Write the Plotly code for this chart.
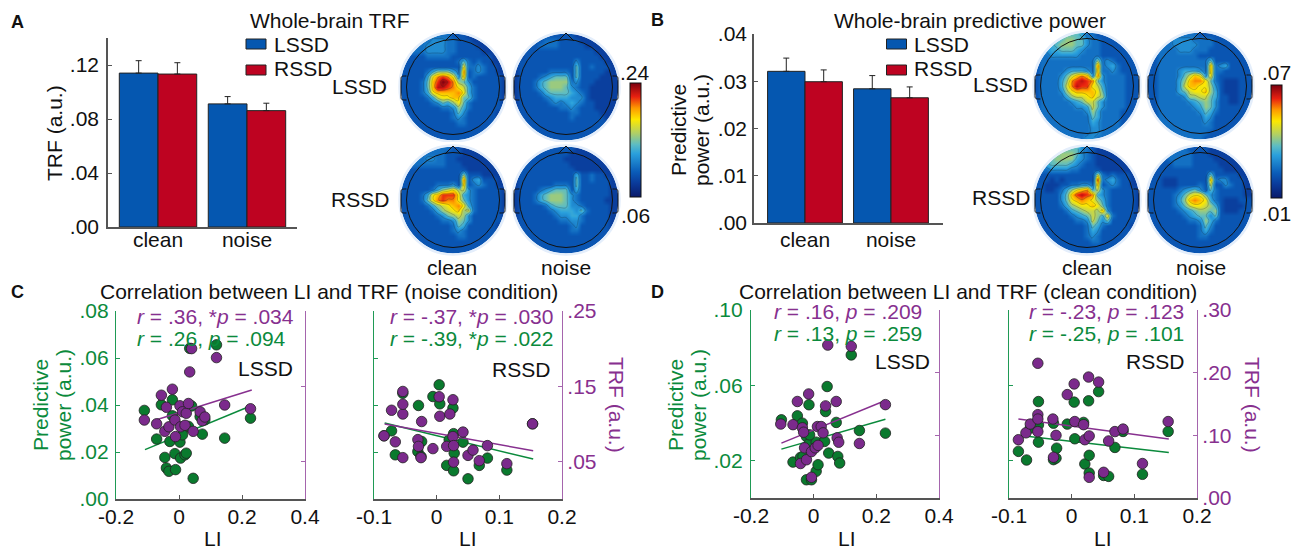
import math
import plotly.graph_objects as go

W, H = 1298, 549
FONT = "Liberation Sans, Arial, sans-serif"
FS = 21
GREEN = "#0b8a3c"
PURPLE = "#87308f"
GREEN_AX = "#1f9a55"
PURPLE_AX = "#a565ad"
GREEN_DOT = "#0a7a2e"
PURPLE_DOT = "#7b2a8c"
BLUE = "#0557b0"
RED = "#be0321"

# ---------- bar data ----------
conditions = ["clean", "noise"]
trf_lssd = [0.1140, 0.0912]
trf_rssd = [0.1133, 0.0862]
trf_lssd_err = [0.0092, 0.0054]
trf_rssd_err = [0.0084, 0.0055]
pp_lssd = [0.0321, 0.0284]
pp_rssd = [0.0299, 0.0265]
pp_lssd_err = [0.0028, 0.0028]
pp_rssd_err = [0.0025, 0.0023]

# ---------- scatter data ----------
cl_x_p = [-.110,-.071,-.056,-.045,-.040,-.032,-.021,-.013,-.011,.003,.005,.011,.019,.023,.030,.034,.040,.045,.067,.074,.082,.119,.145,.227]
cl_p = [.105,.100,.138,.090,.122,.096,.146,.105,.083,.124,.096,.116,.098,.114,.127,.169,.200,.090,.116,.104,.109,.188,.125,.120]
cl_x_g = [-.110,-.071,-.056,-.045,-.040,-.032,-.029,-.021,-.021,-.013,-.011,.003,.005,.011,.019,.023,.030,.034,.040,.045,.067,.074,.082,.119,.145,.227]
cl_g = [.0377,.0255,.0401,.0177,.0132,.0118,.0245,.0422,.0354,.0193,.0125,.0242,.0174,.0273,.0188,.0195,.0309,.0641,.0396,.0088,.0351,.0276,.0337,.0656,.0259,.0344]
cl_line_x_g = [-.108,.227]; cl_line_g = [.0210,.0396]
cl_line_x_p = [-.074,.231]; cl_line_p = [.105,.145]

cr_x_p = [-.084,-.072,-.066,-.054,-.054,-.054,-.054,-.030,-.029,-.025,-.024,-.006,.004,.005,.016,.021,.026,.026,.027,.027,.042,.050,.058,.068,.081,.112,.153]
cr_p = [.084,.118,.076,.055,.113,.126,.143,.079,.070,.055,.103,.067,.136,.110,.070,.113,.132,.083,.071,.049,.089,.058,.065,.051,.071,.047,.100]
cr_x_g = [-.084,-.072,-.066,-.054,-.030,-.029,-.024,-.025,-.006,.004,.005,.016,.020,.026,.027,.027,.028,.042,.050,.068,.081,.112,.153]
cr_g = [.0269,.0290,.0188,.0450,.0202,.0398,.0245,.0181,.0436,.0486,.0405,.0143,.0252,.0387,.0278,.0120,.0195,.0242,.0086,.0143,.0174,.0123,.0320]
cr_line_x = [-.083,.154]; cr_line_g = [.0323,.0170]; cr_line_p = [.0996,.0642]

dl_x_g = [-.103,-.066,-.052,-.036,-.023,-.042,-.034,-.023,-.007,.008,.014,-.015,.043,-.013,.008,.035,.038,.048,.072,.077,.083,.120,.146,.229,-.013]
dl_g = [.0416,.0191,.0437,.0398,.0327,.0216,.0221,.0097,.0097,.0142,.0177,.0496,.0593,.0292,.0297,.0301,.0460,.0239,.0402,.0221,.0186,.0761,.0359,.0345,.0336]
dl_x_p = [-.105,-.066,-.052,-.036,-.032,-.042,-.029,-.023,-.016,-.007,-.007,.005,.014,.012,.024,.030,.038,.072,.075,.080,.045,.120,.146,.229]
dl_p = [.118,.117,.154,.112,.105,.055,.080,.061,.166,.074,.033,.080,.084,.114,.114,.104,.147,.154,.096,.089,.244,.242,.087,.149]
dl_line_x = [-.103,.229]; dl_line_g = [.0260,.0419]; dl_line_p = [.0876,.1556]

dr_x_g = [-.085,-.072,-.066,-.053,-.053,-.053,-.029,-.029,-.025,-.024,-.007,.004,.005,.019,.021,.027,.028,.028,.043,.051,.059,.069,.082,.113,.154]
dr_g = [.0248,.0202,.0372,.0513,.0389,.0297,.0398,.0204,.0212,.0265,.0393,.0510,.0315,.0402,.0181,.0517,.0227,.0133,.0566,.0120,.0115,.0269,.0354,.0126,.0354]
dr_x_p = [-.085,-.073,-.066,-.054,-.054,-.054,-.054,-.030,-.029,-.025,-.007,.004,.005,.019,.021,.027,.028,.028,.043,.051,.059,.069,.082,.113,.154]
dr_p = [.093,.104,.118,.215,.133,.126,.106,.126,.065,.100,.165,.182,.122,.117,.093,.193,.099,.033,.185,.041,.091,.106,.110,.055,.122]
dr_line_x_g = [-.082,.155]; dr_line_g = [.0333,.0242]
dr_line_x_p = [-.085,.155]; dr_line_p = [.126,.094]

# ---------- scalp-map cells (hex level 0-f of the colour bar) ----------
map_a_lssd_clean = ["222334444433322222222","233444555443332222222","334445555443333222222","334445555443333322222","333334444433333333222","333333333334743433222","333333333333a44543322","333334688864c34543322","333336acdca5b34333332","333347bdfec8753333332","333347beedca964333332","333346abbbbca64333332","33333469aabb774333332","33333345768a743333332","333333334458643333332","333333333347533333322","333333333345433333322","333333333334433333322","333333333333333333222","233333333333333333222","223333333333333332222"]
map_a_lssd_noise = ["222223333333222222222","222333444333322222222","223334444333332222222","223333333333333322222","223333333333333332222","233333333333533333222","233333333333733433322","233333344443733333222","233334567773733332222","233346788884533322222","233346788875433222222","233334677776543222222","233333456665553222222","233333345456543322222","233333333445433322222","233333333334433332222","233333333334333333222","233333333333333333322","233333333333333333322","233333333333333332222","223333333333333222222"]
map_a_rssd_clean = ["222334444433222222222","233444444333222222222","334445544332222222222","334444444333222222222","333333333333322222222","333333333333833322222","333333333333c35633322","333333344453b34543322","3333334689a8954333332","333346abddda654333332","333347acdcca754333332","333334689abca64333332","3333334689ab894333332","333333345789853333332","333333334458753333332","333333333347633333322","333333333345433333322","333333333334433333322","333333333333333333222","233333333333333333222","223333333333333332222"]
map_a_rssd_noise = ["222223333333222222222","222333333332222222222","223333333322222222222","223333333332222222222","233333333333222222222","233333333333633433222","233333333333733433322","233333334443733333322","233334567773633333322","233346788875433333322","233346788875433333222","233333467775543333322","233333345666574333322","233333334556643333322","233333333445543333322","233333333334533333322","233333333334433333322","333333333333333333322","333333333333333333322","333333333333333333222","223333333333333332222"]
map_b_lssd_clean = ["333446777644333333333","334567887754433333333","345678887754433333333","345667776544433333334","344555555444433333333","344444444444845433333","344444444444c45643333","344444566654b44543333","34444579bcb5c54444333","3444468cdedc754444333","3444469cedda964444333","3444458abbbba74444333","3444446899ab984444333","344444456799754444333","344444445569754444333","344444444458644443333","344444444447644443333","344444444446544443333","344444444445544443333","334444444445544433333","333444444455444333333"]
map_b_lssd_noise = ["333344444433333333333","334445555444433333333","334445555544433333333","334444555444333333333","334444444433333333333","334444444444733333333","334444444444b45633333","334444566654b44333333","334444579ba5a43333333","33444468bcca743222333","33444469bbaa853222333","334444679aab863222333","334444458899763322333","334444445678753322333","334444444568753333333","334444444457643333333","334444444446533333333","334444444445433333333","333444444444433333333","333344444444333333333","333333444443333333333"]
map_b_rssd_clean = ["333456777543222222222","345678887543222222222","456788886543222222222","346777765433222222222","344555544333322222222","333333333333943433322","333232333333d45643322","332223344554b34543322","33223468abc6954333332","3333357bdedc654333332","3333357abcba864333332","333334689aaba74333332","3333334678998b5333332","33333334567986a433332","333333334459757333332","333333333347643333322","333333333346533333322","333333333345433333322","333333333334433333322","233333333333333333222","223333333333333332222"]
map_b_rssd_noise = ["222333443333222222222","233344444333222222222","233344444333322222222","333334444333332222222","333333333333333222222","333333333333733333222","333222333333b45533322","333222333343933543322","333333456753743333322","333334579aa7543333322","33333468bcba643222333","333334579aa9863222233","333333456788783222333","333333345677573333333","333333334458643333333","333333333347533333333","333333333346433333333","333333333344333333333","333333333333333333333","233333333333333333322","223333333333333332222"]

JET = [[0, "#0a1a6a"], [.12, "#0a3a9a"], [.22, "#0a5cb8"], [.38, "#2aa0dc"], [.46, "#5cbcc4"],
       [.56, "#b0cf66"], [.68, "#fde800"], [.78, "#fd9a00"], [.88, "#e82010"], [1, "#7a0010"]]


def X(p):
    return p / W


def Y(p):
    return 1 - p / H


fig = go.Figure()
layout = {}
shapes = []
annots = []
axis_n = [0]


def new_axes(x0, x1, ytop, ybot, **xkw):
    axis_n[0] += 1
    n = axis_n[0]
    layout[f"xaxis{n}"] = dict(domain=[X(x0), X(x1)], anchor=f"y{n}", showgrid=False, zeroline=False, **xkw)
    layout[f"yaxis{n}"] = dict(domain=[Y(ybot), Y(ytop)], anchor=f"x{n}", showgrid=False, zeroline=False)
    return n


def text(x, y, s, size=FS, color="#111", angle=0, xanchor="center", bold=False):
    annots.append(dict(xref="paper", yref="paper", x=X(x), y=Y(y), text=f"<b>{s}</b>" if bold else s,
                       showarrow=False, xanchor=xanchor, yanchor="middle", textangle=angle,
                       font=dict(family=FONT, size=size, color=color)))


# ---------- bar panels ----------
def bar_panel(x0, x1, ytop, ybot, xrange, vals_l, err_l, vals_r, err_r, ymax, tickvals, ticktext, xoff, yoff):
    n = new_axes(x0, x1, ytop, ybot, type="category", categoryorder="array", categoryarray=conditions,
                 range=xrange, showline=True, linecolor="#555", linewidth=1.5, ticks="", ticklabelstandoff=xoff,
                 tickfont=dict(family=FONT, size=FS, color="#111"))
    layout[f"yaxis{n}"].update(range=[0, ymax], showline=True, linecolor="#555", linewidth=1.5, ticks="inside",
                               ticklen=4, tickcolor="#555", tickvals=tickvals, ticktext=ticktext, ticklabelstandoff=yoff,
                               tickfont=dict(family=FONT, size=FS, color="#111"))
    for vals, err, col in ((vals_l, err_l, BLUE), (vals_r, err_r, RED)):
        fig.add_trace(go.Bar(x=conditions, y=vals, marker=dict(color=col, line=dict(color="#222", width=1)),
                             error_y=dict(type="data", symmetric=False, array=err, arrayminus=[0, 0],
                                          color="#222", thickness=1, width=3),
                             xaxis=f"x{n}", yaxis=f"y{n}", showlegend=False))
    return n


bar_panel(108, 297, 38, 227, [-.562, 1.562], trf_lssd, trf_lssd_err, trf_rssd, trf_rssd_err, .14,
          [0, .04, .08, .12], [".00", ".04", ".08", ".12"], -7, 3)
bar_panel(754, 943, 34, 223, [-.593, 1.605], pp_lssd, pp_lssd_err, pp_rssd, pp_rssd_err, .04,
          [0, .01, .02, .03, .04], [".00", ".01", ".02", ".03", ".04"], -3, 1)
layout["barmode"] = "group"
layout["bargap"] = .13
layout["bargroupgap"] = 0


# ---------- scalp maps ----------
def ellipse_pts(cx, cy, rx, ry, k=72):
    return [(cx + rx * math.cos(2 * math.pi * i / k), cy + ry * math.sin(2 * math.pi * i / k)) for i in range(k)]


def path_from(pts):
    return "M " + " L ".join(f"{X(a):.5f},{Y(b):.5f}" for a, b in pts) + " Z"


def scalp(cx, cy, cells, lo, hi, cbar=None):
    rx, ry = 52, 53
    n = new_axes(cx - rx - 1, cx + rx + 1, cy - ry - 1, cy + ry + 1, range=[-.5, 20.5], visible=False)
    layout[f"yaxis{n}"].update(range=[20.5, -.5], visible=False)
    z = [[lo + int(c, 16) / 15 * (hi - lo) for c in row.ljust(21, "3")[:21]] for row in cells]
    heat = dict(z=z, zmin=lo, zmax=hi, colorscale=JET, zsmooth="best", xaxis=f"x{n}", yaxis=f"y{n}", showscale=False)
    if cbar:
        heat.update(showscale=True, colorbar=dict(x=X(cbar[0]), xanchor="left", y=Y(cbar[1]), yanchor="top",
                                                  lenmode="pixels", len=cbar[2], thicknessmode="pixels", thickness=cbar[3],
                                                  xpad=0, ypad=0, ticks="", showticklabels=False,
                                                  outlinecolor="#111", outlinewidth=1))
    fig.add_trace(go.Heatmap(**heat))
    step = (hi - lo) / 15
    fig.add_trace(go.Contour(z=z, xaxis=f"x{n}", yaxis=f"y{n}", showscale=False, hoverinfo="skip",
                             contours=dict(coloring="none", start=lo + 4.6 * step, end=hi, size=1.9 * step),
                             line=dict(color="rgba(20,30,40,0.4)", width=.6, smoothing=1.3)))
    # mask round the head, halo, head outline, ears and nose
    outer = [(cx - rx - 5, cy - ry - 5), (cx + rx + 5, cy - ry - 5), (cx + rx + 5, cy + ry + 5), (cx - rx - 5, cy + ry + 5)]
    hole = ellipse_pts(cx, cy, rx + .5, ry + .5)
    shapes.append(dict(type="path", xref="paper", yref="paper", path=path_from(outer) + " " + path_from(hole),
                       fillcolor="white", fillrule="evenodd", line=dict(width=0)))
    shapes.append(dict(type="circle", xref="paper", yref="paper", x0=X(cx - rx - 1.5), x1=X(cx + rx + 1.5),
                       y0=Y(cy - ry - 1.5), y1=Y(cy + ry + 1.5), line=dict(color="#e4eefb", width=2.5)))
    shapes.append(dict(type="circle", xref="paper", yref="paper", x0=X(cx - 46.5), x1=X(cx + 46.5),
                       y0=Y(cy - 47.5), y1=Y(cy + 47.5), line=dict(color="#111", width=1)))
    for sgn in (-1, 1):
        a, b = cx + sgn * 46.5, cx + sgn * 52
        t, m = cy - 11, cy + 13
        shapes.append(dict(type="path", xref="paper", yref="paper",
                           path=f"M {X(a):.5f},{Y(t):.5f} C {X(b):.5f},{Y(t):.5f} {X(b):.5f},{Y(t):.5f} {X(b):.5f},{Y(t+5):.5f} "
                                f"L {X(b):.5f},{Y(m-5):.5f} C {X(b):.5f},{Y(m):.5f} {X(b):.5f},{Y(m):.5f} {X(a):.5f},{Y(m):.5f}",
                           line=dict(color="#111", width=1)))
    shapes.append(dict(type="path", xref="paper", yref="paper",
                       path=f"M {X(cx-8):.5f},{Y(cy-46):.5f} L {X(cx):.5f},{Y(cy-54):.5f} L {X(cx+8):.5f},{Y(cy-46):.5f}",
                       line=dict(color="#111", width=1)))


scalp(453, 87, map_a_lssd_clean, .06, .24, cbar=(630, 83, 114, 11))
scalp(566, 87, map_a_lssd_noise, .06, .24)
scalp(453, 200, map_a_rssd_clean, .06, .24)
scalp(566, 200, map_a_rssd_noise, .06, .24)
scalp(1087, 86, map_b_lssd_clean, .01, .07, cbar=(1271, 85, 113, 11))
scalp(1200, 86, map_b_lssd_noise, .01, .07)
scalp(1087, 200, map_b_rssd_clean, .01, .07)
scalp(1200, 200, map_b_rssd_noise, .01, .07)


# ---------- scatter panels ----------
def scatter_panel(x0, x1, ytop, ybot, xr, xticks, xtext, yl_max, yl_vals, yl_text, yr_max, yr_vals, yr_text,
                  xg, g, xp, p, lxg, lg, lxp, lp, yoff):
    n = new_axes(x0, x1, ytop, ybot, range=xr, tickvals=xticks, ticktext=xtext, showline=True, linecolor="#555",
                 linewidth=1.5, ticks="inside", ticklen=4, tickcolor="#555", ticklabelstandoff=-2,
                 tickfont=dict(family=FONT, size=FS, color="#111"))
    layout[f"yaxis{n}"].update(range=[0, yl_max], showline=True, linecolor=GREEN_AX, linewidth=1.2, ticks="inside",
                               ticklen=4, tickcolor=GREEN_AX, tickvals=yl_vals, ticktext=yl_text, ticklabelstandoff=yoff,
                               tickfont=dict(family=FONT, size=FS, color=GREEN))
    m = 100 + n
    layout[f"yaxis{m}"] = dict(range=[0, yr_max], showgrid=False, zeroline=False, showline=True, linecolor=PURPLE_AX,
                               linewidth=1.2, ticks="inside", ticklen=4, tickcolor=PURPLE_AX, tickvals=yr_vals,
                               ticktext=yr_text, side="right", anchor=f"x{n}", overlaying=f"y{n}",
                               tickfont=dict(family=FONT, size=FS, color=PURPLE))
    fig.add_trace(go.Scatter(x=lxg, y=lg, mode="lines", line=dict(color=GREEN, width=1.5), xaxis=f"x{n}", yaxis=f"y{n}"))
    fig.add_trace(go.Scatter(x=xg, y=g, mode="markers", xaxis=f"x{n}", yaxis=f"y{n}",
                             marker=dict(size=10.5, color=GREEN_DOT, line=dict(color="#222", width=.8))))
    fig.add_trace(go.Scatter(x=lxp, y=lp, mode="lines", line=dict(color=PURPLE, width=1.5), xaxis=f"x{n}", yaxis=f"y{m}"))
    fig.add_trace(go.Scatter(x=xp, y=p, mode="markers", xaxis=f"x{n}", yaxis=f"y{m}",
                             marker=dict(size=10.5, color=PURPLE_DOT, line=dict(color="#222", width=.8))))


xt_wide, xl_wide = [-.2, 0, .2, .4], ["-0.2", "0", "0.2", "0.4"]
xt_narrow, xl_narrow = [-.1, 0, .1, .2], ["-0.1", "0", "0.1", "0.2"]
scatter_panel(116, 305, 311, 499, [-.2, .4], xt_wide, xl_wide, .08, [0, .02, .04, .06, .08], [".00", ".02", ".04", ".06", ".08"],
              .25, [.05, .15, .25], ["", "", ""], cl_x_g, cl_g, cl_x_p, cl_p, cl_line_x_g, cl_line_g, cl_line_x_p, cl_line_p, 2)
scatter_panel(374, 562, 311, 499, [-.1, .2], xt_narrow, xl_narrow, .08, [.02, .04, .06, .08], ["", "", "", ""],
              .25, [.05, .15, .25], [".05", ".15", ".25"], cr_x_g, cr_g, cr_x_p, cr_p, cr_line_x, cr_line_g, cr_line_x, cr_line_p, 0)
scatter_panel(751, 939, 310, 498, [-.2, .4], xt_wide, xl_wide, .10, [.02, .06, .10], [".02", ".06", ".10"],
              .30, [.10, .20, .30], ["", "", ""], dl_x_g, dl_g, dl_x_p, dl_p, dl_line_x, dl_line_g, dl_line_x, dl_line_p, 3)
scatter_panel(1009, 1197, 310, 498, [-.1, .2], xt_narrow, xl_narrow, .10, [.02, .06, .10], ["", "", ""],
              .30, [0, .10, .20, .30], [".00", ".10", ".20", ".30"], dr_x_g, dr_g, dr_x_p, dr_p, dr_line_x_g, dr_line_g, dr_line_x_p, dr_line_p, 0)

# ---------- legend swatches and texts ----------
for xs, xt in ((246, 272), (886.5, 912)):
    for ys, lab, col, yt in ((39, "LSSD", BLUE, 45), (65, "RSSD", RED, 68)):
        shapes.append(dict(type="rect", xref="paper", yref="paper", x0=X(xs), x1=X(xs + 20), y0=Y(ys), y1=Y(ys + 10),
                           fillcolor=col, line=dict(color="#222", width=1)))
        text(xt, yt, lab, xanchor="left")

for x, y, s in ((17, 22, "A"), (657, 20, "B"), (17, 292, "C"), (657, 292, "D")):
    text(x, y, s, size=18, bold=True)

text(330, 20, "Whole-brain TRF")
text(970, 20, "Whole-brain predictive power")
text(329, 291, "Correlation between LI and TRF (noise condition)")
text(968, 291, "Correlation between LI and TRF (clean condition)")

text(55, 133, "TRF (a.u.)", angle=-90)
text(679, 130, "Predictive", angle=-90)
text(702, 130, "power (a.u.)", angle=-90)
text(40, 405, "Predictive", angle=-90, color=GREEN)
text(63, 405, "power (a.u.)", angle=-90, color=GREEN)
text(675, 405, "Predictive", angle=-90, color=GREEN)
text(698, 405, "power (a.u.)", angle=-90, color=GREEN)
text(617, 405, "TRF (a.u.)", angle=90, color=PURPLE)
text(1253, 405, "TRF (a.u.)", angle=90, color=PURPLE)

for x, y, s in ((359, 87, "LSSD"), (360, 199, "RSSD"), (452, 267, "clean"), (566, 267, "noise"),
                (1000, 85, "LSSD"), (1001, 198, "RSSD"), (1087, 267, "clean"), (1201, 267, "noise"),
                (635, 72, ".24"), (635, 215, ".06"), (1276, 72, ".07"), (1276, 213, ".01"),
                (265, 368, "LSSD"), (521, 369, "RSSD"), (902, 361, "LSSD"), (1155, 361, "RSSD"),
                (213, 538, "LI"), (468, 538, "LI"), (847, 538, "LI"), (1103, 538, "LI")):
    text(x, y, s)

for x, y, s, col in ((135, 316, "<i>r</i> = .36, *<i>p</i> = .034", PURPLE), (135, 338, "<i>r</i> = .26, <i>p</i> = .094", GREEN),
                     (388, 316, "<i>r</i> = -.37, *<i>p</i> = .030", PURPLE), (388, 338, "<i>r</i> = -.39, *<i>p</i> = .022", GREEN),
                     (772, 311, "<i>r</i> = .16, <i>p</i> = .209", PURPLE), (772, 333, "<i>r</i> = .13, <i>p</i> = .259", GREEN),
                     (1027, 311, "<i>r</i> = -.23, <i>p</i> = .123", PURPLE), (1027, 333, "<i>r</i> = -.25, <i>p</i> = .101", GREEN)):
    text(x, y, s, color=col, xanchor="left")

fig.update_layout(width=W, height=H, margin=dict(l=0, r=0, t=0, b=0, pad=0, autoexpand=False), paper_bgcolor="white",
                  plot_bgcolor="rgba(0,0,0,0)", showlegend=False, shapes=shapes, annotations=annots,
                  font=dict(family=FONT), **layout)
fig.write_html("out.html", config=dict(displayModeBar=False), post_script="document.body.style.margin='0';")
